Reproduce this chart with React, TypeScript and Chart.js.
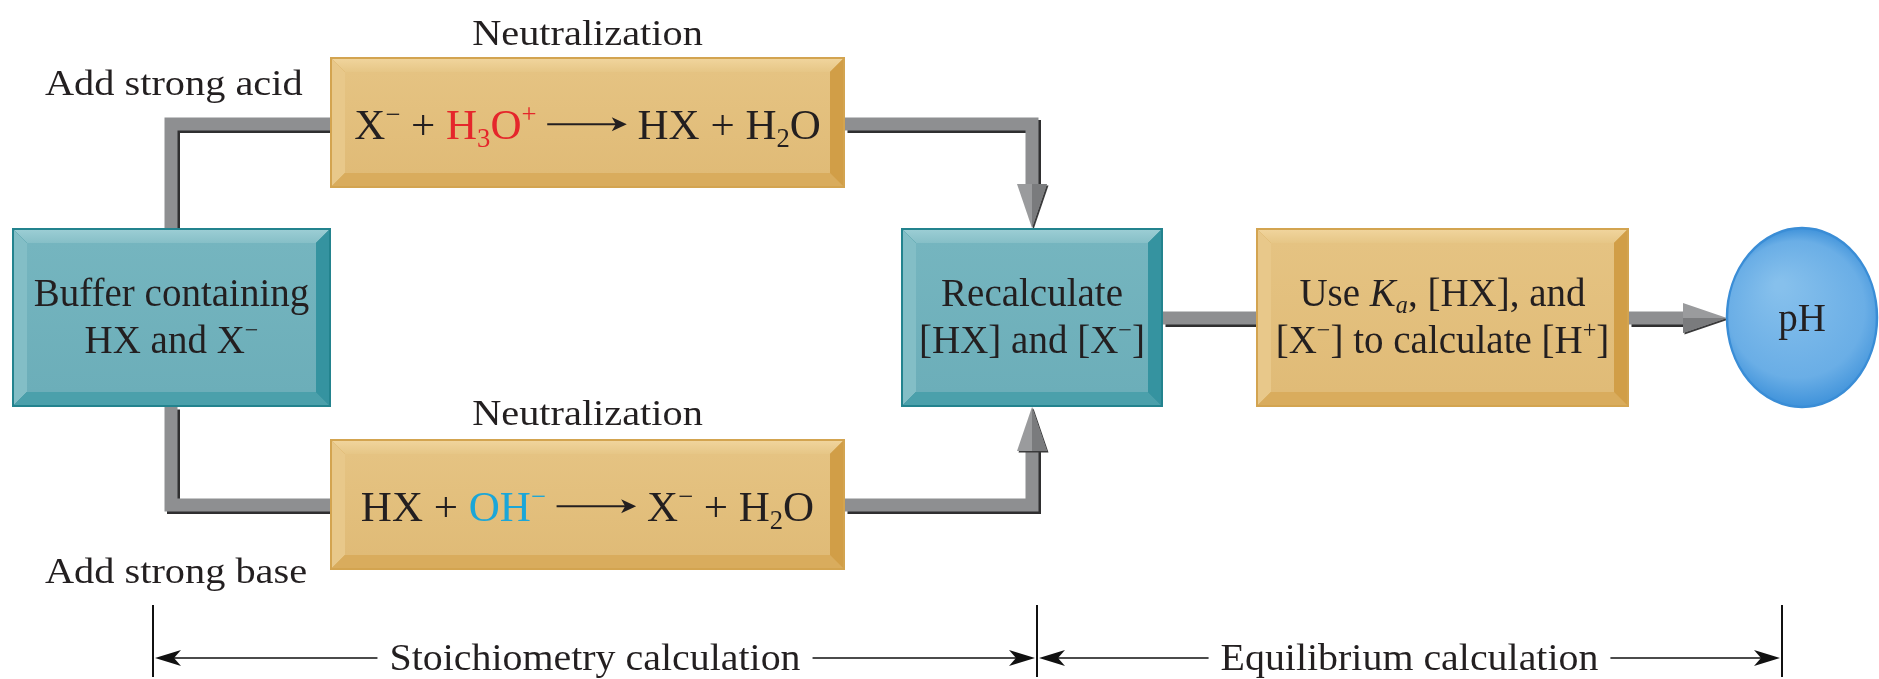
import React, { useEffect, useRef } from "react";
import { Chart, registerables } from "chart.js";

Chart.register(...registerables);

// ---------- diagram data ----------
const nodeNames = ["buffer", "acidRxn", "baseRxn", "recalc", "useKa", "pH"];
const nodeKinds = ["teal", "orange", "orange", "teal", "orange", "ellipse"];
const nodeCx = [171.5, 587.5, 587.5, 1032, 1442.5, 1802];
const nodeCy = [317.5, 122.5, 504.5, 317.5, 317.5, 317.5];
const nodeW = [319, 515, 515, 262, 373, 150];
const nodeH = [179, 131, 131, 179, 179, 179];

type Run = { t?: string; s?: "sup" | "sub"; hl?: "acid" | "base"; i?: boolean; arrow?: boolean };

const nodeText: Run[][][] = [
  [[{ t: "Buffer containing" }], [{ t: "HX and X" }, { t: "\u2212", s: "sup" }]],
  [[
    { t: "X" }, { t: "\u2212", s: "sup" }, { t: " + " },
    { t: "H", hl: "acid" }, { t: "3", s: "sub", hl: "acid" }, { t: "O", hl: "acid" }, { t: "+", s: "sup", hl: "acid" },
    { t: " " }, { arrow: true }, { t: " HX + H" }, { t: "2", s: "sub" }, { t: "O" },
  ]],
  [[
    { t: "HX + " }, { t: "OH", hl: "base" }, { t: "\u2212", s: "sup", hl: "base" },
    { t: " " }, { arrow: true }, { t: " X" }, { t: "\u2212", s: "sup" }, { t: " + H" }, { t: "2", s: "sub" }, { t: "O" },
  ]],
  [[{ t: "Recalculate" }], [{ t: "[HX] and [X" }, { t: "\u2212", s: "sup" }, { t: "]" }]],
  [
    [{ t: "Use " }, { t: "K", i: true }, { t: "a", s: "sub", i: true }, { t: ", [HX], and" }],
    [{ t: "[X" }, { t: "\u2212", s: "sup" }, { t: "] to calculate [H" }, { t: "+", s: "sup" }, { t: "]" }],
  ],
  [[{ t: "pH" }]],
];

const captionTexts = ["Neutralization", "Neutralization", "Add strong acid", "Add strong base"];
const captionX = [587.5, 587.5, 45, 45];
const captionY = [45, 425, 95, 583];
const captionAlign = ["center", "center", "left", "left"];

// connector pipes (centre-lines), last point of arrowed pipes is the arrow tip
const pipes: number[][][] = [
  [[171, 228], [171, 124], [330, 124]],
  [[845, 124], [1032, 124], [1032, 228]],
  [[171, 407], [171, 505], [330, 505]],
  [[845, 505], [1032, 505], [1032, 407]],
  [[1163, 318], [1256, 318]],
  [[1629, 318], [1727, 318]],
];
const pipeArrow = [false, true, false, true, false, true];

const dimTicks = [153, 1037, 1782];
const dimLabels = ["Stoichiometry calculation", "Equilibrium calculation"];
const dimLineY = 658;
const dimTickTop = 605;
const dimTickBottom = 677;

// ---------- styles ----------
const FONT = '"Liberation Serif","Times New Roman",serif';
const HL: Record<string, string> = { acid: "#E5262B", base: "#1BA6D8" };
const TEXT = "#231F20";
const PALETTES: Record<string, any> = {
  orange: {
    edge: "#D3A450", topOuter: "#F0D49C", topInner: "#E6C686", left: "#E8C88A",
    right: "#D19E47", bottom: "#D9AC5D", faceTop: "#E5C382", faceBottom: "#E0BB77",
  },
  teal: {
    edge: "#23838E", topOuter: "#9BCDD4", topInner: "#86BFC7", left: "#83BEC6",
    right: "#3593A0", bottom: "#4BA0AB", faceTop: "#75B5BF", faceBottom: "#6CAEB9",
  },
};

function drawRich(ctx: CanvasRenderingContext2D, runs: Run[], cx: number, base: number, size: number, stretch: number) {
  const items = runs.map((r) => {
    const sz = r.s ? size * 0.62 : size;
    const font = `${r.i ? "italic " : ""}${sz}px ${FONT}`;
    let w: number;
    if (r.arrow) w = size * 1.85;
    else {
      ctx.font = font;
      w = ctx.measureText(r.t || "").width * stretch;
    }
    return { r, sz, font, w };
  });
  const total = items.reduce((a, b) => a + b.w, 0);
  let x = cx - total / 2;
  for (const it of items) {
    const col = it.r.hl ? HL[it.r.hl] : TEXT;
    if (it.r.arrow) {
      const y = base - size * 0.33;
      ctx.strokeStyle = TEXT;
      ctx.lineWidth = 2;
      ctx.beginPath();
      ctx.moveTo(x, y);
      ctx.lineTo(x + it.w - 3, y);
      ctx.stroke();
      ctx.fillStyle = TEXT;
      ctx.beginPath();
      ctx.moveTo(x + it.w, y);
      ctx.lineTo(x + it.w - 15, y - 7);
      ctx.lineTo(x + it.w - 11, y);
      ctx.lineTo(x + it.w - 15, y + 7);
      ctx.closePath();
      ctx.fill();
    } else {
      const dy = it.r.s === "sup" ? -size * 0.36 : it.r.s === "sub" ? size * 0.2 : 0;
      ctx.save();
      ctx.translate(x, base + dy);
      ctx.scale(stretch, 1);
      ctx.font = it.font;
      ctx.fillStyle = col;
      ctx.textAlign = "left";
      ctx.textBaseline = "alphabetic";
      ctx.fillText(it.r.t || "", 0, 0);
      ctx.restore();
    }
    x += it.w;
  }
  return total;
}

function poly(ctx: CanvasRenderingContext2D, pts: number[][], fill: any) {
  ctx.beginPath();
  ctx.moveTo(pts[0][0], pts[0][1]);
  for (let i = 1; i < pts.length; i++) ctx.lineTo(pts[i][0], pts[i][1]);
  ctx.closePath();
  ctx.fillStyle = fill;
  ctx.fill();
}

function bevelBox(ctx: CanvasRenderingContext2D, x0: number, y0: number, x1: number, y1: number, p: any, b: number) {
  ctx.fillStyle = p.edge;
  ctx.fillRect(x0, y0, x1 - x0, y1 - y0);
  const e = 2;
  const ax0 = x0 + e, ay0 = y0 + e, ax1 = x1 - e, ay1 = y1 - e;
  const ix0 = ax0 + b, iy0 = ay0 + b, ix1 = ax1 - b, iy1 = ay1 - b;
  const gt = ctx.createLinearGradient(0, ay0, 0, iy0);
  gt.addColorStop(0, p.topOuter);
  gt.addColorStop(1, p.topInner);
  poly(ctx, [[ax0, ay0], [ax1, ay0], [ix1, iy0], [ix0, iy0]], gt);
  poly(ctx, [[ax0, ay0], [ix0, iy0], [ix0, iy1], [ax0, ay1]], p.left);
  poly(ctx, [[ax1, ay0], [ax1, ay1], [ix1, iy1], [ix1, iy0]], p.right);
  poly(ctx, [[ax0, ay1], [ix0, iy1], [ix1, iy1], [ax1, ay1]], p.bottom);
  const gf = ctx.createLinearGradient(0, iy0, 0, iy1);
  gf.addColorStop(0, p.faceTop);
  gf.addColorStop(1, p.faceBottom);
  ctx.fillStyle = gf;
  ctx.fillRect(ix0, iy0, ix1 - ix0, iy1 - iy0);
}

function dimArrow(ctx: CanvasRenderingContext2D, x: number, y: number, dir: number) {
  ctx.fillStyle = "#111";
  ctx.beginPath();
  ctx.moveTo(x, y);
  ctx.lineTo(x - dir * 26, y - 8);
  ctx.lineTo(x - dir * 19, y);
  ctx.lineTo(x - dir * 26, y + 8);
  ctx.closePath();
  ctx.fill();
}

const diagramPlugin = {
  id: "bufferDiagram",
  afterDatasetsDraw(chart: any) {
    const ctx: CanvasRenderingContext2D = chart.ctx;
    const sx = chart.scales.x;
    const sy = chart.scales.y;
    const X = (v: number) => sx.getPixelForValue(v);
    const Y = (v: number) => sy.getPixelForValue(v);
    const kx = Math.abs(X(1) - X(0));
    const ky = Math.abs(Y(1) - Y(0));
    const meta = chart.getDatasetMeta(0);
    ctx.save();

    // pipes
    const PW = 13;
    pipes.forEach((pts, pi) => {
      const arrow = pipeArrow[pi];
      const P = pts.map((p) => [X(p[0]), Y(p[1])]);
      let tip: number[] | null = null;
      let dir: number[] = [0, 0];
      const HEAD = 44;
      if (arrow) {
        tip = P[P.length - 1];
        const prev = P[P.length - 2];
        const dx = tip[0] - prev[0], dy = tip[1] - prev[1];
        const len = Math.hypot(dx, dy);
        dir = [dx / len, dy / len];
        P[P.length - 1] = [tip[0] - dir[0] * (HEAD - 2), tip[1] - dir[1] * (HEAD - 2)];
      }
      const stroke = (color: string, off: number) => {
        ctx.strokeStyle = color;
        ctx.lineWidth = PW;
        ctx.lineJoin = "miter";
        ctx.lineCap = "butt";
        ctx.beginPath();
        ctx.moveTo(P[0][0] + off, P[0][1] + off);
        for (let i = 1; i < P.length; i++) ctx.lineTo(P[i][0] + off, P[i][1] + off);
        ctx.stroke();
      };
      stroke("#2F2F30", 2.5);
      stroke("#8E8F91", 0);
      if (tip) {
        const nx = -dir[1], ny = dir[0];
        const bx = tip[0] - dir[0] * HEAD, by = tip[1] - dir[1] * HEAD;
        const hw = 15;
        const a = [bx + nx * hw, by + ny * hw];
        const c = [bx - nx * hw, by - ny * hw];
        poly(ctx, [[tip[0] + 1.5, tip[1] + 1.5], [a[0] + 1.5, a[1] + 1.5], [c[0] + 1.5, c[1] + 1.5]], "#3A3A3B");
        poly(ctx, [tip, a, c], "#9A9B9D");
        const side = a[0] + a[1] > c[0] + c[1] ? a : c;
        poly(ctx, [tip, side, [bx, by]], "#7A7B7D");
      }
    });

    // nodes
    meta.data.forEach((pt: any, i: number) => {
      const cx = pt.x, cy = pt.y;
      const w = nodeW[i] * kx, h = nodeH[i] * ky;
      const kind = nodeKinds[i];
      if (kind === "ellipse") {
        const g = ctx.createRadialGradient(cx - w * 0.15, cy - h * 0.18, 5, cx, cy, Math.max(w, h) / 2);
        g.addColorStop(0, "#86C0EC");
        g.addColorStop(0.75, "#6AAEE6");
        g.addColorStop(1, "#3F92DA");
        ctx.beginPath();
        ctx.ellipse(cx, cy, w / 2, h / 2, 0, 0, Math.PI * 2);
        ctx.fillStyle = g;
        ctx.fill();
        ctx.lineWidth = 2.5;
        ctx.strokeStyle = "#3A8DD6";
        ctx.stroke();
      } else {
        bevelBox(ctx, cx - w / 2, cy - h / 2, cx + w / 2, cy + h / 2, PALETTES[kind], 13);
      }
      const lines = nodeText[i];
      const isEq = kind === "orange" && lines.length === 1;
      const size = isEq ? 43 : 39;
      const stretch = 1.0;
      if (lines.length === 1) {
        drawRich(ctx, lines[0], cx, cy + (isEq ? 16 : 13), size, stretch);
      } else {
        drawRich(ctx, lines[0], cx, cy - 12, size, stretch);
        drawRich(ctx, lines[1], cx, cy + 35, size, stretch);
      }
    });

    // captions
    const CAP = 36, CST = 1.12;
    captionTexts.forEach((t, i) => {
      ctx.font = `${CAP}px ${FONT}`;
      const w = ctx.measureText(t).width * CST;
      const x = captionAlign[i] === "center" ? X(captionX[i]) : X(captionX[i]) + w / 2;
      drawRich(ctx, [{ t }], x, Y(captionY[i]), CAP, CST);
    });

    // dimension lines
    ctx.strokeStyle = "#111";
    ctx.lineWidth = 2;
    dimTicks.forEach((t) => {
      ctx.beginPath();
      ctx.moveTo(X(t), Y(dimTickTop));
      ctx.lineTo(X(t), Y(dimTickBottom));
      ctx.stroke();
    });
    const ly = Y(dimLineY);
    dimLabels.forEach((lab, i) => {
      const a = X(dimTicks[i]) + 2, b = X(dimTicks[i + 1]) - 2;
      const mid = (a + b) / 2;
      const tw = drawRich(ctx, [{ t: lab }], mid, ly + 12, 38, 1.05);
      ctx.strokeStyle = "#111";
      ctx.lineWidth = 1.6;
      ctx.beginPath();
      ctx.moveTo(a + 10, ly);
      ctx.lineTo(mid - tw / 2 - 12, ly);
      ctx.moveTo(mid + tw / 2 + 12, ly);
      ctx.lineTo(b - 10, ly);
      ctx.stroke();
      dimArrow(ctx, a, ly, -1);
      dimArrow(ctx, b, ly, 1);
    });

    ctx.restore();
  },
};

export default function App() {
  const ref = useRef<HTMLCanvasElement>(null);
  useEffect(() => {
    document.body.style.margin = "0";
    document.body.style.background = "#ffffff";
    const canvas = ref.current!;
    const chart = new Chart(canvas, {
      type: "scatter",
      data: {
        datasets: [
          {
            label: "nodes",
            data: nodeNames.map((_, i) => ({ x: nodeCx[i], y: nodeCy[i] })),
            pointRadius: 0,
            pointHoverRadius: 0,
          },
        ],
      },
      options: {
        animation: false,
        responsive: false,
        devicePixelRatio: 1,
        layout: { padding: 0 },
        events: [],
        scales: {
          x: { type: "linear", min: 0, max: 1879, display: false },
          y: { type: "linear", min: 0, max: 679, reverse: true, display: false },
        },
        plugins: { legend: { display: false }, tooltip: { enabled: false } },
      },
      plugins: [diagramPlugin],
    });
    return () => chart.destroy();
  }, []);
  return (
    <div style={{ width: 1879, height: 679, background: "#fff" }}>
      <canvas ref={ref} width={1879} height={679} style={{ display: "block", width: 1879, height: 679 }} />
    </div>
  );
}
